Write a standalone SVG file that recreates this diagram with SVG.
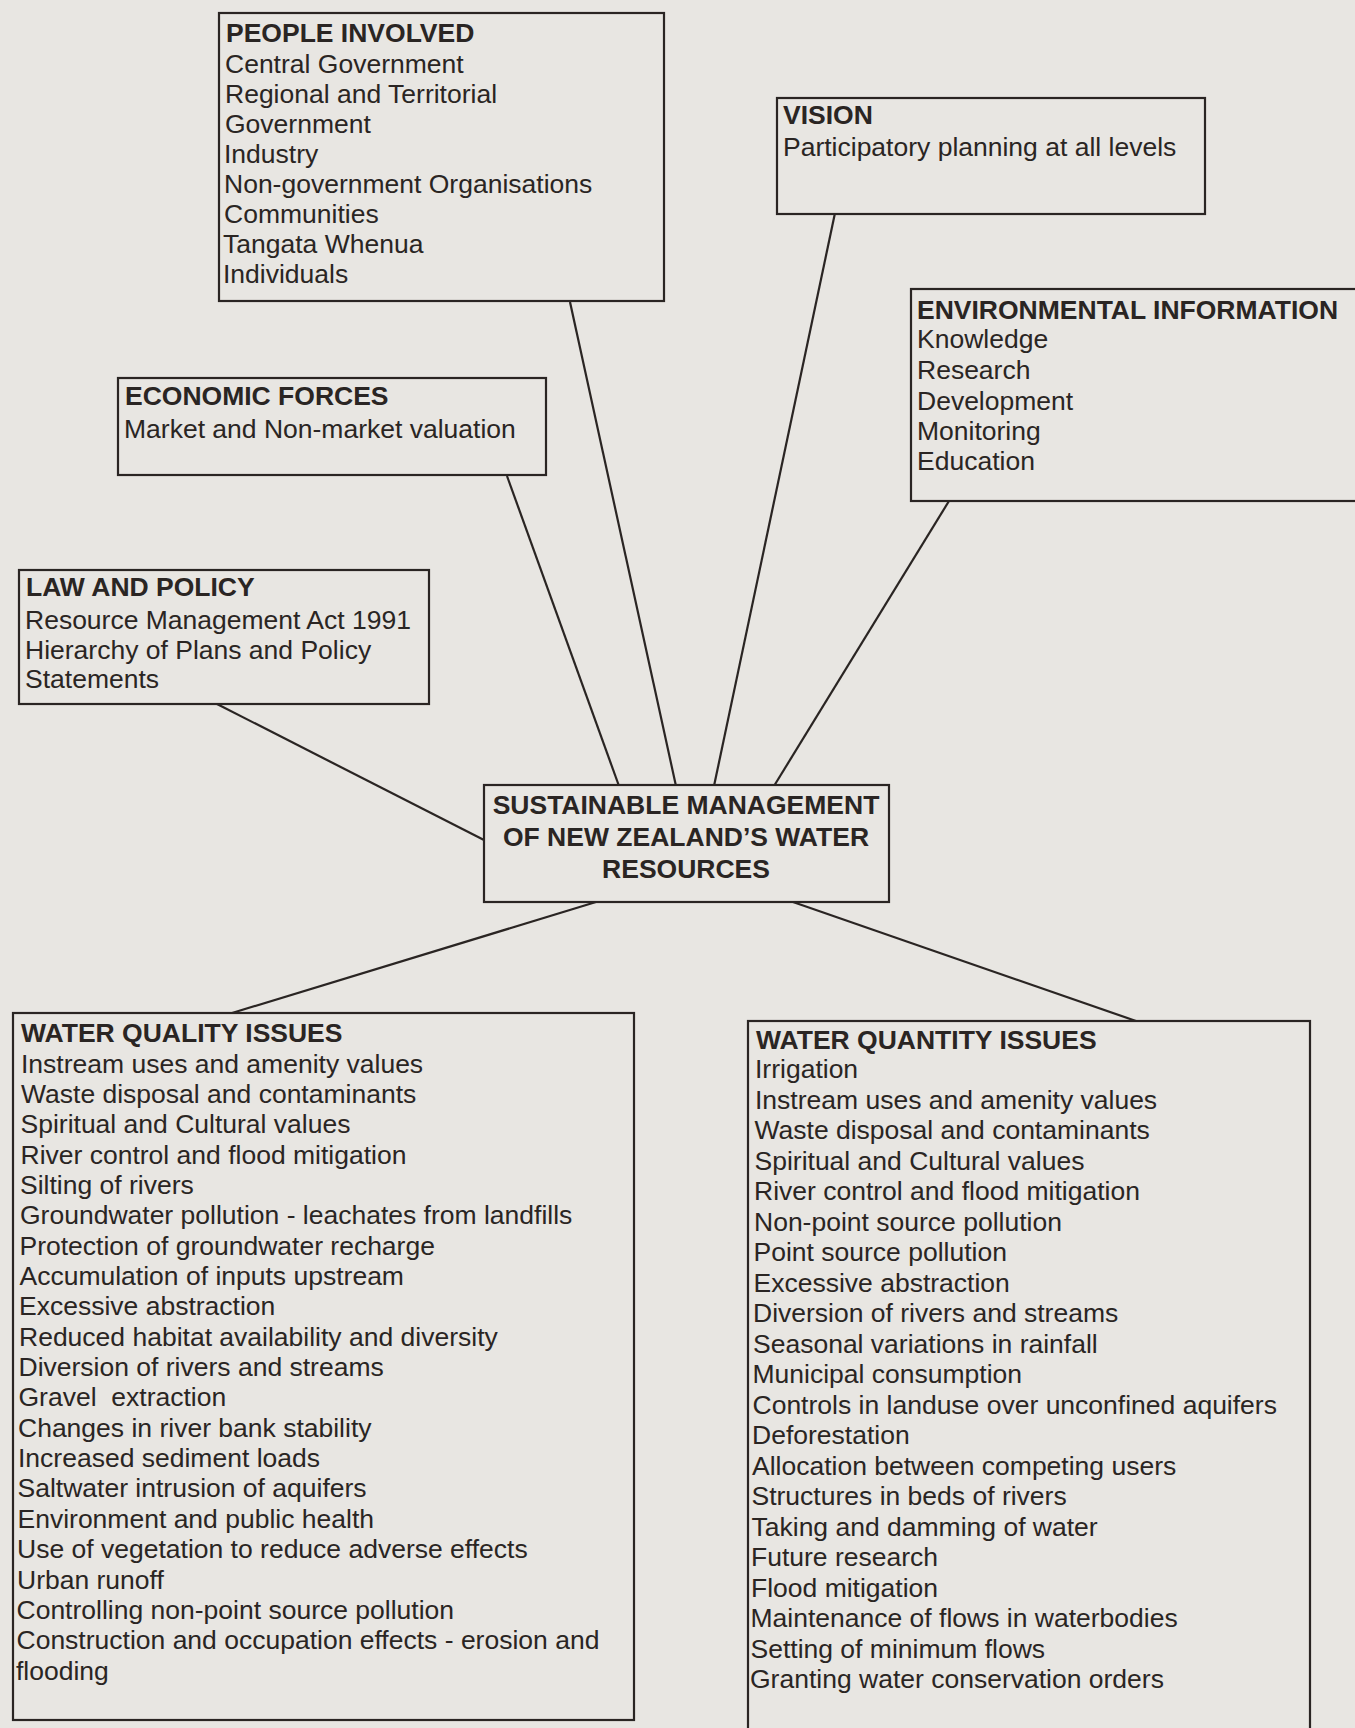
<svg xmlns="http://www.w3.org/2000/svg" width="1355" height="1728" viewBox="0 0 1355 1728">
<style>
.bg{fill:#e8e6e2}
.box{fill:#e8e6e2;stroke:#2a2523;stroke-width:2.2}
.conn line{stroke:#2a2523;stroke-width:2.2;fill:none}
text{font-family:"Liberation Sans",Arial,Helvetica,sans-serif;font-size:26.5px;fill:#2a2523}
.t{font-weight:bold}
.c{text-anchor:middle;font-weight:bold}
.pre{white-space:pre}
</style>
<rect class="bg" x="0" y="0" width="1355" height="1728"/>
<g id="connectors" class="conn">
<line x1="570" y1="302" x2="676" y2="786"/>
<line x1="835" y1="213" x2="714" y2="786"/>
<line x1="507" y1="476" x2="619" y2="786"/>
<line x1="949" y1="501" x2="774" y2="786"/>
<line x1="217" y1="704" x2="484" y2="840"/>
<line x1="596" y1="902" x2="232" y2="1013"/>
<line x1="793" y1="902" x2="1136" y2="1021"/>
</g>
<g id="people">
<rect class="box" x="219" y="13" width="445" height="288"/>
<text class="t" x="226" y="42">PEOPLE INVOLVED</text>
<text x="225" y="72.5">Central Government</text>
<text x="225" y="102.6">Regional and Territorial</text>
<text x="225" y="132.7">Government</text>
<text x="224" y="162.8">Industry</text>
<text x="224" y="192.9">Non-government Organisations</text>
<text x="224" y="223">Communities</text>
<text x="223" y="253.1">Tangata Whenua</text>
<text x="223" y="283.2">Individuals</text>
</g>
<g id="vision">
<rect class="box" x="777" y="98" width="428" height="116"/>
<text class="t" x="783" y="124">VISION</text>
<text x="783" y="156">Participatory planning at all levels</text>
</g>
<g id="environmental">
<rect class="box" x="911" y="289" width="460" height="212"/>
<text class="t" x="917" y="319">ENVIRONMENTAL INFORMATION</text>
<text x="917" y="348">Knowledge</text>
<text x="917" y="379">Research</text>
<text x="917" y="409.5">Development</text>
<text x="917" y="440">Monitoring</text>
<text x="917" y="470">Education</text>
</g>
<g id="economic">
<rect class="box" x="118" y="378" width="428" height="97"/>
<text class="t" x="125" y="405">ECONOMIC FORCES</text>
<text x="124" y="437.5">Market and Non-market valuation</text>
</g>
<g id="law">
<rect class="box" x="19" y="570" width="410" height="134"/>
<text class="t" x="26" y="596">LAW AND POLICY</text>
<text x="25" y="629">Resource Management Act 1991</text>
<text x="25" y="659">Hierarchy of Plans and Policy</text>
<text x="25" y="688">Statements</text>
</g>
<g id="central">
<rect class="box" x="484" y="785" width="405" height="117"/>
<text class="c" x="686" y="814">SUSTAINABLE MANAGEMENT</text>
<text class="c" x="686" y="846">OF NEW ZEALAND’S WATER</text>
<text class="c" x="686" y="878">RESOURCES</text>
</g>
<g id="water-quality">
<rect class="box" x="13" y="1013" width="621" height="707"/>
<text class="t" x="21" y="1042">WATER QUALITY ISSUES</text>
<text x="21" y="1072.5">Instream uses and amenity values</text>
<text x="21" y="1102.9">Waste disposal and contaminants</text>
<text x="20.5" y="1133.2">Spiritual and Cultural values</text>
<text x="20.5" y="1163.6">River control and flood mitigation</text>
<text x="20" y="1193.9">Silting of rivers</text>
<text x="20" y="1224.3">Groundwater pollution - leachates from landfills</text>
<text x="19.5" y="1254.6">Protection of groundwater recharge</text>
<text x="19.5" y="1285">Accumulation of inputs upstream</text>
<text x="19" y="1315.3">Excessive abstraction</text>
<text x="19" y="1345.7">Reduced habitat availability and diversity</text>
<text x="18.5" y="1376">Diversion of rivers and streams</text>
<text class="pre" x="18.5" y="1406.4" xml:space="preserve">Gravel  extraction</text>
<text x="18" y="1436.7">Changes in river bank stability</text>
<text x="18" y="1467.1">Increased sediment loads</text>
<text x="17.5" y="1497.4">Saltwater intrusion of aquifers</text>
<text x="17.5" y="1527.8">Environment and public health</text>
<text x="17" y="1558.1">Use of vegetation to reduce adverse effects</text>
<text x="17" y="1588.5">Urban runoff</text>
<text x="16.5" y="1618.8">Controlling non-point source pollution</text>
<text x="16.5" y="1649.2">Construction and occupation effects - erosion and</text>
<text x="16" y="1679.5">flooding</text>
</g>
<g id="water-quantity">
<rect class="box" x="748" y="1021" width="562" height="730"/>
<text class="t" x="756" y="1049">WATER QUANTITY ISSUES</text>
<text x="755" y="1078">Irrigation</text>
<text x="755" y="1108.5">Instream uses and amenity values</text>
<text x="754.5" y="1139">Waste disposal and contaminants</text>
<text x="754.5" y="1169.5">Spiritual and Cultural values</text>
<text x="754" y="1200">River control and flood mitigation</text>
<text x="754" y="1230.5">Non-point source pollution</text>
<text x="753.5" y="1261">Point source pollution</text>
<text x="753.5" y="1291.5">Excessive abstraction</text>
<text x="753" y="1322">Diversion of rivers and streams</text>
<text x="753" y="1352.5">Seasonal variations in rainfall</text>
<text x="752.5" y="1383">Municipal consumption</text>
<text x="752.5" y="1413.5">Controls in landuse over unconfined aquifers</text>
<text x="752" y="1444">Deforestation</text>
<text x="752" y="1474.5">Allocation between competing users</text>
<text x="751.5" y="1505">Structures in beds of rivers</text>
<text x="751.5" y="1535.5">Taking and damming of water</text>
<text x="751" y="1566">Future research</text>
<text x="751" y="1596.5">Flood mitigation</text>
<text x="750.5" y="1627">Maintenance of flows in waterbodies</text>
<text x="750.5" y="1657.5">Setting of minimum flows</text>
<text x="750" y="1688">Granting water conservation orders</text>
</g>
</svg>
